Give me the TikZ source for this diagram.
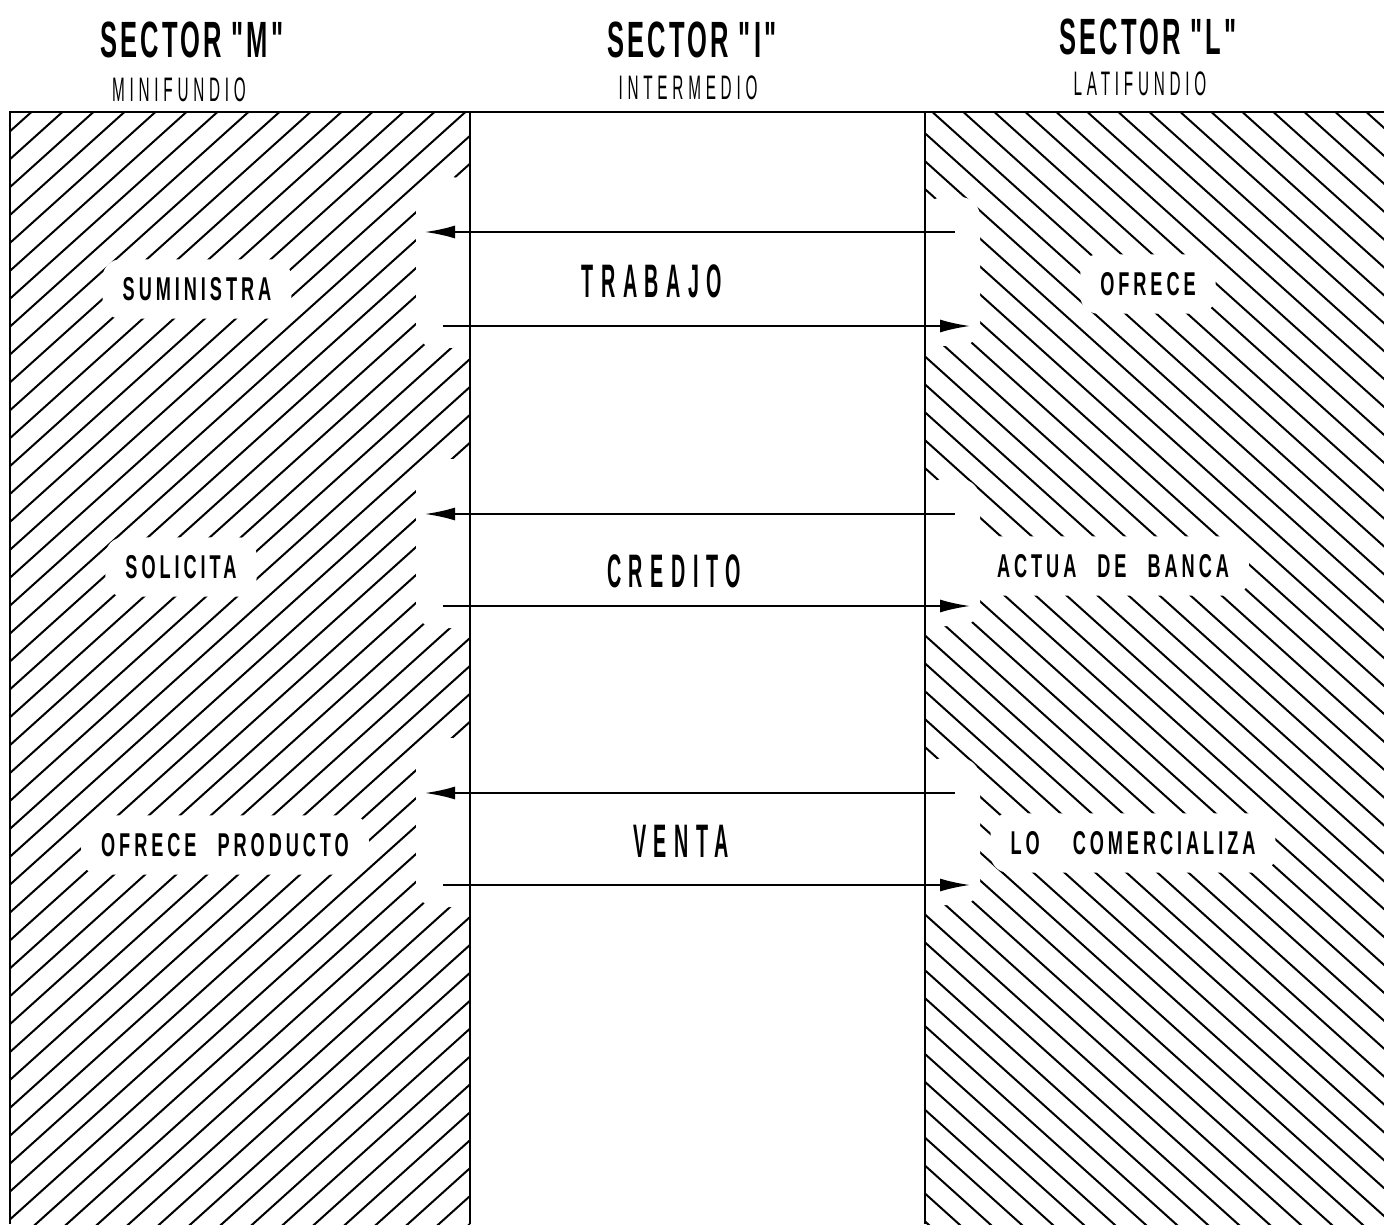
\documentclass[tikz,border=0pt]{standalone}
\usepackage{fontspec}
\setmainfont{Liberation Sans}
\newfontfamily\headfont[FakeStretch=0.5,LetterSpace=6]{Liberation Sans}
\newfontfamily\subfont[FakeStretch=0.45,LetterSpace=14]{Liberation Sans}
\newfontfamily\flowfont[FakeStretch=0.42,LetterSpace=16]{Liberation Sans}
\newfontfamily\rolefont[FakeStretch=0.55,LetterSpace=12]{Liberation Sans}
\newcommand{\wordgap}{\hspace{6pt}}
\usetikzlibrary{arrows.meta}

\begin{document}
\begin{tikzpicture}[x=0.5pt,y=-0.5pt,
 head/.style={font=\headfont\bfseries\fontsize{25.5}{26}\selectfont,inner sep=0pt},
 sub/.style={font=\subfont\fontsize{17}{17}\selectfont,inner sep=0pt},
 flow/.style={font=\flowfont\bfseries\fontsize{23.5}{24}\selectfont,inner sep=0pt},
 role/.style={font=\rolefont\bfseries\fontsize{16.5}{17}\selectfont,fill=white,rounded corners=9pt,inner xsep=10pt,inner ysep=9pt},
 rule/.style={line width=1.2pt},
 hatch/.style={line width=1pt},
 clear/.style={fill=white,rounded corners=10pt},
 link/.style={-{Latex[length=15pt,width=6.5pt]},line width=1pt}]
\path[use as bounding box] (0,0) rectangle (1384,1224);

% Hatching of the two outer sectors.
\begin{scope}
 \clip (10,112) rectangle (470,1224);
 \foreach \x in {-1450,-1419,...,480}
  \draw[hatch] (\x,1250) -- ++(1500,-1350);
\end{scope}
\begin{scope}
 \clip (925,112) rectangle (1384,1224);
 \foreach \x in {-600,-569,...,1400}
  \draw[hatch] (\x,100) -- ++(1500,1350);
\end{scope}
% White gaps where the arrows cross into the outer sectors.
\foreach \a/\b in {232/326,514/606,793/885} {
 \fill[clear] (416,\a-55) rectangle (471,\b+22);
 \fill[clear] (924,\a-35) rectangle (980,\b+20);
}

\draw[rule] (10,1224) -- (10,112) -- (1384,112);
\draw[rule] (470,112) -- (470,1224);
\draw[rule] (925,112) -- (925,1224);

\node[head] (secM) at (192,40) {SECTOR "M"};
\node[sub] (mini) at (179,90) {MINIFUNDIO};
\node[head] (secI) at (692,40) {SECTOR "I"};
\node[sub] (inter) at (688,88) {INTERMEDIO};
\node[head] (secL) at (1148,37) {SECTOR "L"};
\node[sub] (lati) at (1140,84) {LATIFUNDIO};

\node[flow] (trabajo) at (652,281) {TRABAJO};
\node[flow] (credito) at (674,571) {CREDITO};
\node[flow] (venta) at (681,841) {VENTA};

\node[role] (sumin) at (197,289) {SUMINISTRA};
\node[role] (solic) at (181,567) {SOLICITA};
\node[role] (ofprod) at (225,845) {OFRECE\wordgap{} PRODUCTO};
\node[role] (ofrece) at (1148,284) {OFRECE};
\node[role] (banca) at (1113,566) {ACTUA\wordgap{} DE\wordgap{} BANCA};
\node[role] (comer) at (1133,843) {LO\wordgap\wordgap{} COMERCIALIZA};

% Each exchange: one arrow towards M, one towards L.
\foreach \n/\a/\b in {wk/232/326,cr/514/606,vt/793/885} {
 \coordinate (\n toM) at (425,\a);
 \coordinate (\n fromL) at (955,\a);
 \coordinate (\n fromM) at (443,\b);
 \coordinate (\n toL) at (970,\b);
 \draw[link] (\n fromL) -- (\n toM);
 \draw[link] (\n fromM) -- (\n toL);
}
\end{tikzpicture}
\end{document}
